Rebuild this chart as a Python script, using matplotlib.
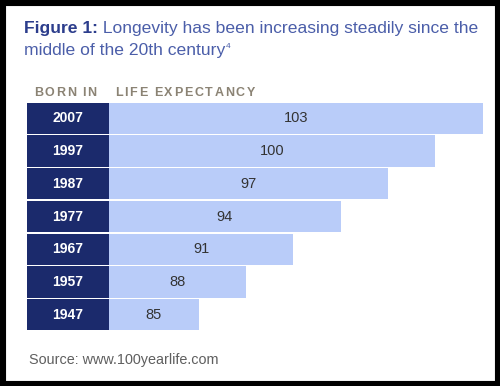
import matplotlib
matplotlib.use("Agg")
import matplotlib.pyplot as plt
from matplotlib.patches import Rectangle

born_years = ["2007", "1997", "1987", "1977", "1967", "1957", "1947"]
life_expectancy = [103, 100, 97, 94, 91, 88, 85]
title_bold = "Figure 1:"
title_rest_1 = " Longevity has been increasing steadily since the"
title_line_2 = "middle of the 20th century"
title_sup = "4"
header_left = "BORN IN"
header_right = "LIFE EXPECTANCY"
source_text = "Source: www.100yearlife.com"

W, H = 500, 386
DARK = "#1b2a6c"
LIGHT = "#b9ccf9"
TITLE_BOLD_C = "#2c3d8c"
TITLE_C = "#4b5ea9"
HEAD_C = "#8b8374"
plt.rcParams["font.family"] = ["Liberation Sans", "DejaVu Sans"]

fig = plt.figure(figsize=(W / 100, H / 100), dpi=100)
fig.patch.set_facecolor("white")

def fx(px):
    return px / W

def fy(py):
    return 1 - py / H

# black frame
fig.patches.append(Rectangle((0, 0), 1, 1, transform=fig.transFigure,
                             fill=False, edgecolor="black", linewidth=8, zorder=10))

renderer = fig.canvas.get_renderer()

TS = 12.6
# title
t1 = fig.text(fx(24), fy(33), title_bold, fontsize=TS, fontweight="bold",
              color=TITLE_BOLD_C, va="baseline", ha="left")
w1 = t1.get_window_extent(renderer).width
fig.text(fx(24 + w1), fy(33), title_rest_1, fontsize=TS, color=TITLE_C,
         va="baseline", ha="left")
t3 = fig.text(fx(24), fy(55), title_line_2, fontsize=TS, color=TITLE_C,
              va="baseline", ha="left")
w3 = t3.get_window_extent(renderer).width
fig.text(fx(24 + w3 + 0.5), fy(48), title_sup, fontsize=6, color=TITLE_C,
         va="baseline", ha="left")

# headers with letter spacing
def spaced(x, y, s, size, color, track):
    for ch in s:
        t = fig.text(fx(x), fy(y), ch, fontsize=size, fontweight="bold",
                     color=color, va="baseline", ha="left")
        x += t.get_window_extent(renderer).width + track
    return x

spaced(34, 96, header_left, 9, HEAD_C, 1.6)
spaced(115, 96, header_right, 9, HEAD_C, 1.7)

top_px, bot_px = 102, 331
n = len(born_years)
ypos = list(range(n))

axL = fig.add_axes([fx(27), fy(bot_px), fx(108 - 27 + 1), (bot_px - top_px) / H])
axL.barh(ypos, [1] * n, height=0.96, color=DARK, edgecolor="none")
axL.set_xlim(0, 1)
axL.set_ylim(n - 0.5, -0.5)
for i, yr in enumerate(born_years):
    axL.text(0.5, i, yr, color="white", fontsize=10, fontweight="bold",
             ha="center", va="center")
axL.axis("off")

base = 79.3
axR = fig.add_axes([fx(109), fy(bot_px), fx(490 - 109), (bot_px - top_px) / H])
widths = [v - base for v in life_expectancy]
axR.barh(ypos, widths, left=base, height=0.96, color=LIGHT, edgecolor="none")
axR.set_xlim(base, base + (490 - 109) / 15.76)
axR.set_ylim(n - 0.5, -0.5)
for i, v in enumerate(life_expectancy):
    axR.text(base + (v - base) / 2, i, str(v), color="#333333", fontsize=10.5,
             ha="center", va="center")
axR.axis("off")

fig.text(fx(29), fy(364), source_text, fontsize=10.4, color="#5f5f5f",
         va="baseline", ha="left")

fig.savefig("out.png", dpi=100)
